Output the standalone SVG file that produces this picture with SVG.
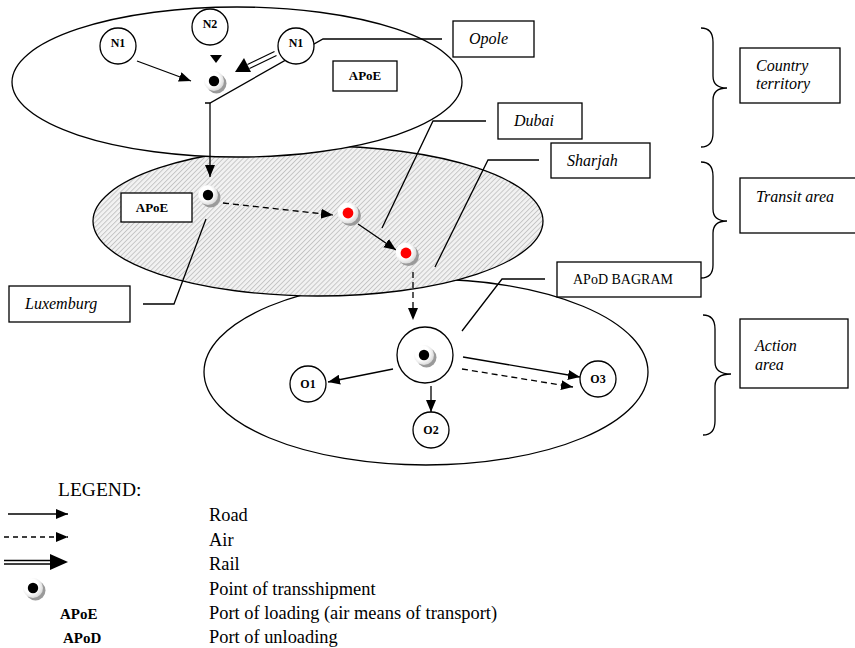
<svg xmlns="http://www.w3.org/2000/svg" xmlns:xlink="http://www.w3.org/1999/xlink" width="855" height="648" viewBox="0 0 855 648">
<style>
.ln{stroke:#000;stroke-width:1.3;fill:none}
.area{stroke:#000;stroke-width:1.3}
.box{fill:#fff;stroke:#000;stroke-width:1.3}
.node{fill:#fff;stroke:#000;stroke-width:1.3}
.it{font-family:"Liberation Serif","Times New Roman",serif;font-style:italic;font-size:16px}
.rg{font-family:"Liberation Serif","Times New Roman",serif;font-size:14px}
.bd{font-family:"Liberation Serif","Times New Roman",serif;font-weight:bold;font-size:12px}
.bd13{font-family:"Liberation Serif","Times New Roman",serif;font-weight:bold;font-size:13px}
.bd15{font-family:"Liberation Serif","Times New Roman",serif;font-weight:bold;font-size:15px}
.lg{font-family:"Liberation Serif","Times New Roman",serif;font-size:18.4px}
.lgh{font-family:"Liberation Serif","Times New Roman",serif;font-size:19.5px}
.road{stroke:#000;stroke-width:1.3;fill:none;marker-end:url(#ah)}
.air{stroke:#000;stroke-width:1.3;fill:none;stroke-dasharray:6 4;marker-end:url(#ah)}
</style>
<defs>
<marker id="ah" markerUnits="userSpaceOnUse" markerWidth="12" markerHeight="10" refX="12" refY="5" orient="auto">
<path d="M0,0 L12,5 L0,10 z" fill="#000"/>
</marker>
<pattern id="hatch" width="3.5" height="3.5" patternUnits="userSpaceOnUse" patternTransform="rotate(45)">
<rect width="3.5" height="3.5" fill="#f2f2f2"/>
<line x1="0.5" y1="0" x2="0.5" y2="3.5" stroke="#b4b4b4" stroke-width="0.7"/>
</pattern>
<radialGradient id="wg" cx="0.4" cy="0.4" r="0.6">
<stop offset="0.6" stop-color="#fff"/>
<stop offset="1" stop-color="#dcdcdc"/>
</radialGradient>
<g id="tp">
<circle cx="2.5" cy="2.5" r="10" fill="#9a9a9a"/>
<circle cx="0" cy="0" r="10" fill="url(#wg)"/>
<circle cx="0" cy="0" r="5.2" fill="#000"/>
</g>
<g id="tpr">
<circle cx="2.5" cy="2.5" r="10.5" fill="#9a9a9a"/>
<circle cx="0" cy="0" r="10.5" fill="url(#wg)"/>
<circle cx="0" cy="0" r="5.4" fill="#f00"/>
</g>
</defs>
<rect width="855" height="648" fill="#fff"/>

<g id="areas">
<ellipse id="action-area" class="area" cx="426" cy="372" rx="222" ry="93" fill="#fff"/>
<ellipse id="transit-area" class="area" cx="318" cy="221" rx="225" ry="75" fill="url(#hatch)"/>
<ellipse id="country-area" class="area" cx="237" cy="82" rx="225" ry="75" fill="#fff"/>
</g>

<g id="connectors">
<polyline class="ln" points="205,103 210,103 323,39 442,39"/>
<polyline class="ln" points="486,121 433,121 382,228"/>
<polyline class="ln" points="539,160 488,160 435,267"/>
<polyline class="ln" points="545,279 502,279 462,331"/>
<polyline class="ln" points="143,304 174,304 206,219"/>
<line class="road" x1="137" y1="61" x2="191" y2="81"/>
<path d="M210,55 L222,55 L216,63 z" fill="#000"/>
<line x1="249.5" y1="68.5" x2="276.5" y2="55.5" stroke="#000" stroke-width="1.2"/>
<line x1="247.5" y1="64.5" x2="274.5" y2="51.5" stroke="#000" stroke-width="1.2"/>
<path d="M235,72 L244,58 L251,72 z" fill="#000"/>
<line class="road" x1="210" y1="103" x2="210" y2="177"/>
<line class="air" x1="223" y1="203" x2="333" y2="215"/>
<line class="road" x1="358" y1="224" x2="396" y2="250"/>
<line class="air" x1="413" y1="272" x2="413" y2="320"/>
<line class="road" x1="393" y1="369" x2="328" y2="382"/>
<line class="road" x1="431" y1="386" x2="431" y2="412"/>
<line class="road" x1="463" y1="357" x2="580" y2="377"/>
<line class="air" x1="462" y1="369" x2="573" y2="387"/>
</g>

<g id="n1-left"><circle class="node" cx="118" cy="46" r="18"/><text class="bd" x="118" y="47" text-anchor="middle">N1</text></g>
<g id="n2"><circle class="node" cx="210" cy="27" r="18"/><text class="bd" x="210" y="28" text-anchor="middle">N2</text></g>
<g id="n1-right"><circle class="node" cx="296" cy="46" r="18"/><text class="bd" x="296" y="47" text-anchor="middle">N1</text></g>
<g id="tp-opole"><use xlink:href="#tp" x="214" y="81"/></g>
<g id="apoe-top"><rect class="box" x="333" y="61" width="64" height="30"/><text class="bd13" x="365" y="80" text-anchor="middle">APoE</text></g>
<g id="opole"><rect class="box" x="453" y="21" width="81" height="36"/><text class="it" x="469" y="44">Opole</text></g>
<g id="dubai"><rect class="box" x="498" y="103" width="84" height="36"/><text class="it" x="514" y="126">Dubai</text></g>
<g id="sharjah"><rect class="box" x="551" y="143" width="99" height="35"/><text class="it" x="567" y="166">Sharjah</text></g>
<g id="apod-bagram-label"><rect class="box" x="557" y="262" width="144" height="35"/><text class="rg" x="573" y="284">APoD BAGRAM</text></g>
<g id="luxemburg"><rect class="box" x="9" y="286" width="121" height="36"/><text class="it" x="25" y="309">Luxemburg</text></g>
<g id="apoe-transit"><rect class="box" x="121" y="193" width="71" height="29"/><text class="bd13" x="152" y="212" text-anchor="middle">APoE</text></g>
<g id="tp-luxemburg"><use xlink:href="#tp" x="208" y="195"/></g>
<g id="tp-dubai"><use xlink:href="#tpr" x="348" y="213"/></g>
<g id="tp-sharjah"><use xlink:href="#tpr" x="406" y="253"/></g>
<g id="bagram"><circle class="node" cx="425" cy="355" r="28"/><use xlink:href="#tp" x="424" y="355"/></g>
<g id="o1"><circle class="node" cx="308" cy="384" r="18"/><text class="bd" x="308" y="388" text-anchor="middle">O1</text></g>
<g id="o2"><circle class="node" cx="431" cy="430" r="18"/><text class="bd" x="431" y="434" text-anchor="middle">O2</text></g>
<g id="o3"><circle class="node" cx="598" cy="379" r="18"/><text class="bd" x="598" y="383" text-anchor="middle">O3</text></g>

<g id="brace-country"><path class="ln" d="M701,28 Q713,28 713,42 L713,76 Q713,88 727,88 Q713,88 713,100 L713,133 Q713,147 701,147"/></g>
<g id="country-territory"><rect class="box" x="740" y="48" width="100" height="55"/><text class="it" x="756" y="71">Country</text><text class="it" x="756" y="89">territory</text></g>
<g id="brace-transit"><path class="ln" d="M701,162 Q713,162 713,176 L713,209 Q713,221 727,221 Q713,221 713,233 L713,265 Q713,278 701,278"/></g>
<g id="transit-area-label"><rect class="box" x="740" y="178" width="120" height="55"/><text class="it" x="756" y="202">Transit area</text></g>
<g id="brace-action"><path class="ln" d="M703,315 Q715,315 715,329 L715,362 Q715,374 731,374 Q715,374 715,386 L715,421 Q715,435 703,435"/></g>
<g id="action-area-label"><rect class="box" x="740" y="319" width="108" height="69"/><text class="it" x="755" y="351">Action</text><text class="it" x="755" y="370">area</text></g>

<g id="legend">
<text class="lgh" x="58" y="496">LEGEND:</text>
<line class="road" x1="8" y1="514" x2="68" y2="514"/>
<line class="air" x1="4" y1="537" x2="68" y2="537" style="stroke-dasharray:5 4"/>
<line x1="4" y1="560.5" x2="52" y2="560.5" stroke="#000" stroke-width="1.3"/>
<line x1="4" y1="564" x2="52" y2="564" stroke="#000" stroke-width="1.3"/>
<path d="M50,554 L68,562 L50,570 z" fill="#000"/>
<use xlink:href="#tp" x="33" y="588"/>
<text class="bd15" x="60" y="619">APoE</text>
<text class="bd15" x="63" y="643">APoD</text>
<text class="lg" x="209" y="521">Road</text>
<text class="lg" x="209" y="546">Air</text>
<text class="lg" x="209" y="570">Rail</text>
<text class="lg" x="209" y="595">Point of transshipment</text>
<text class="lg" x="209" y="619">Port of loading (air means of transport)</text>
<text class="lg" x="209" y="643">Port of unloading</text>
</g>
</svg>
